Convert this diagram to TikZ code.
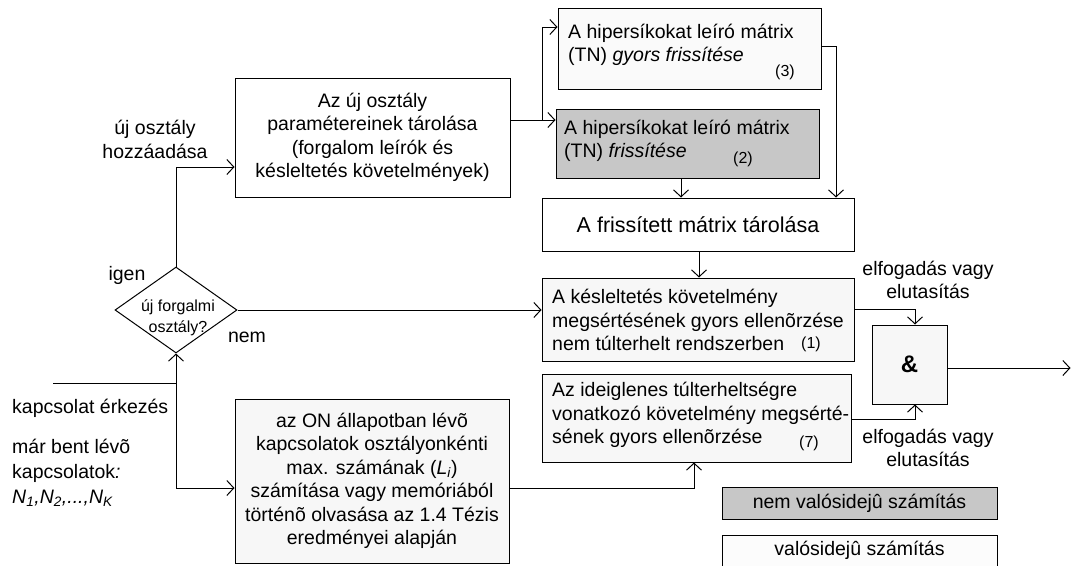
\documentclass[tikz,border=0pt]{standalone}
\usepackage{fontspec}
\setmainfont{Liberation Sans}
\usetikzlibrary{shapes.geometric,arrows.meta}
\newcommand\fmain{\fontsize{19.5}{23.5}\selectfont}
\newcommand\fbig{\fontsize{21.5}{26}\selectfont}
\newcommand\fsmall{\fontsize{16}{21}\selectfont}
\begin{document}
\begin{tikzpicture}[x=1pt,y=-1pt,
  box/.style={draw,line width=1pt,inner sep=0pt,fill=white},
  lbox/.style={box,fill=black!3},
  gbox/.style={box,fill=black!22},
  arr/.style={-{Straight Barb[length=7pt,width=15pt]}},
  wire/.style={line width=1pt},
  txt/.style={inner sep=0pt,font=\fmain},
  stxt/.style={inner sep=0pt,font=\fsmall}]
\useasboundingbox (0,0) rectangle (1071,565);

% boxes
\node[box,minimum width=275pt,minimum height=119pt,align=center,font=\fmain] (b1) at (372.5,137.5)
  {Az új osztály\\paramétereinek tárolása\\(forgalom leírók és\\késleltetés követelmények)};
\node[box,fill=black!2,minimum width=263pt,minimum height=81pt] (b3) at (689.5,48.5) {};
\node[txt,align=left,anchor=west] (b3t) at (568,45) {A hipersíkokat leíró mátrix\\(TN) \textit{gyors frissítése}};
\node[stxt] (b3n) at (785,72) {(3)};
\node[gbox,minimum width=263pt,minimum height=69pt] (b2) at (687.5,143.5) {};
\node[txt,align=left,anchor=west] (b2t) at (564,141) {A hipersíkokat leíró mátrix\\(TN) \textit{frissítése}};
\node[stxt] (b2n) at (743,159) {(2)};
\node[box,minimum width=312pt,minimum height=53pt,font=\fbig] (fr) at (698,224.5) {A frissített mátrix tárolása};
\node[lbox,minimum width=312pt,minimum height=83pt] (k1) at (698,319.5) {};
\node[txt,align=left,anchor=west] (k1t) at (552,320) {A késleltetés követelmény\\megsértésének gyors ellenõrzése\\nem túlterhelt rendszerben};
\node[stxt] (k1n) at (811,344) {(1)};
\node[lbox,minimum width=309pt,minimum height=88pt] (k7) at (696.5,418) {};
\node[txt,align=left,anchor=west] (k7t) at (552,415) {Az ideiglenes túlterheltségre\\vonatkozó követelmény megsérté-\\sének gyors ellenõrzése};
\node[stxt] (k7n) at (809,443) {(7)};
\node[lbox,minimum width=274pt,minimum height=164pt,align=center,font=\fmain] (on) at (372,481)
  {az ON állapotban lévõ\\kapcsolatok osztályonkénti\\max. számának (\textit{L}\textsubscript{\textit{i}})\\számítása vagy memóriából\\történõ olvasása az 1.4 Tézis\\eredményei alapján};
\node[lbox,minimum width=75pt,minimum height=79pt,font=\bfseries\fontsize{24}{28}\selectfont] (and) at (909.5,364.5) {\&};
\node[gbox,minimum width=275pt,minimum height=32pt,font=\fmain] (lg1) at (859.5,503) {nem valósidejû számítás};
\node[box,fill=black!1,minimum width=275pt,minimum height=31pt,font=\fmain] (lg2) at (859.5,550.5) {valósidejû számítás};

% decision
\node[draw,diamond,line width=1pt,fill=white,minimum width=122pt,minimum height=86pt,inner sep=0pt] (d) at (176,310) {};
\node[stxt,align=center] (dt) at (178,318) {új forgalmi\\osztály?};

% labels
\node[txt,align=center] (l1) at (155,139.5) {új osztály\\hozzáadása};
\node[txt] (l2) at (127,275) {igen};
\node[txt] (l3) at (247,337) {nem};
\node[txt,anchor=west] (l4) at (12,408) {kapcsolat érkezés};
\node[txt,anchor=west,align=left,font=\fontsize{19.5}{25}\selectfont] (l5) at (12,473)
  {már bent lévõ\\kapcsolatok\textit{:}\\\textit{N\textsubscript{1},N\textsubscript{2},...,N\textsubscript{K}}};
\node[txt,align=center] (l6) at (928,280) {elfogadás vagy\\elutasítás};
\node[txt,align=center] (l7) at (928,448) {elfogadás vagy\\elutasítás};

% connectors
\draw[wire,arr] (d.north) |- (b1.west |- 0,167);
\draw[wire,arr] (d.east) -- (d.east -| k1.west);
\coordinate (in) at (53,383);
\coordinate (j) at (176,383);
\draw[wire] (in) -- (j);
\draw[wire,arr] (j) -- (d.south);
\draw[wire,arr] (j) |- (on.west |- 0,488);
\draw[wire,arr] (on.east |- 0,488) -| (k7.south -| 694,0);
\coordinate (br) at (542,120);
\draw[wire] (b1.east |- br) -- (br);
\draw[wire,arr] (br) |- (b3.west |- 0,27);
\draw[wire,arr] (br) -- (b2.west |- br);
\draw[wire,arr] (b2.south -| 681,0) -- (fr.north -| 681,0);
\draw[wire,arr] (b3.east |- 0,46) -| (fr.north -| 836,0);
\draw[wire,arr] (fr.south -| 699,0) -- (k1.north -| 699,0);
\draw[wire,arr] (k1.east |- 0,309) -| (and.north -| 915,0);
\draw[wire,arr] (k7.east |- 0,419) -| (and.south -| 915,0);
\coordinate (out) at (1070.5,368);
\draw[wire,arr] (and.east |- out) -- (out);
\end{tikzpicture}
\end{document}
